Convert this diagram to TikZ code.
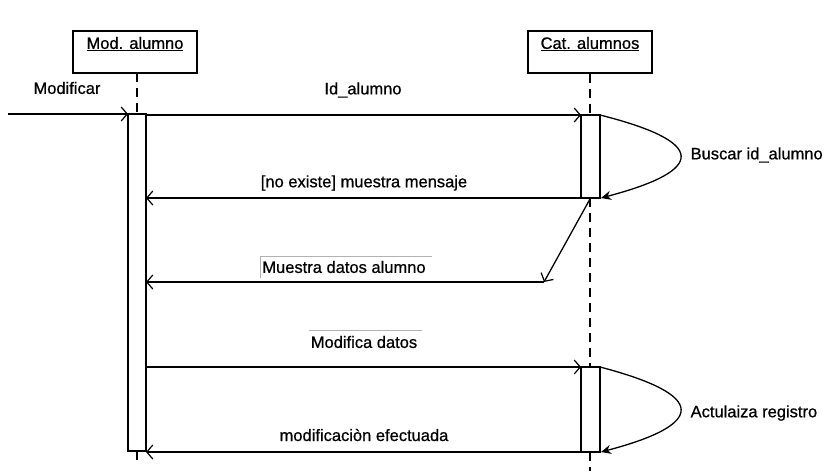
\documentclass[tikz,border=0pt]{standalone}
\usepackage{fontspec}
\setmainfont{Liberation Sans}
\newfontfamily\labelfont[FakeBold=0.7]{Liberation Sans}
\usetikzlibrary{arrows.meta}
\begin{document}
\begin{tikzpicture}[x=1pt,y=-1pt,
  line width=1.3pt,
  txt/.style={inner sep=0pt,font=\labelfont\fontsize{16.5}{19}\selectfont},
  objbox/.style={draw,fill=white,minimum width=124pt,minimum height=42pt,inner sep=0pt},
  lifeline/.style={line width=1.2pt,dash pattern=on 9pt off 6pt},
  actbox/.style={draw,fill=white},
  msg/.style={-{Straight Barb[length=6pt,width=14pt,line width=1.2pt]}},
  selfmsg/.style={-{Stealth[length=10pt,width=9pt]}},
  note/.style={line width=0.4pt,gray!60}]
\useasboundingbox (0,0) rectangle (829,471);

% objects
\node[objbox] (mod) at (135,52) {};
\node[txt] (modName) at (135,44) {\underline{Mod. alumno}};
\node[objbox] (cat) at (590,52) {};
\node[txt] (catName) at (590,44) {\underline{Cat. alumnos}};

% lifeline coordinates
\coordinate (modA) at (137,114);
\coordinate (modB) at (137,451);
\coordinate (modEnd) at (137,462);
\coordinate (catA) at (590,115);
\coordinate (catB) at (590,198);
\coordinate (catC) at (590,367);
\coordinate (catD) at (590,452);
\coordinate (catEnd) at (590,471);

% dashed lifelines
\draw[lifeline] (137,73) -- (modA);
\draw[lifeline] (modB) -- (modEnd);
\draw[lifeline] (cat.south) -- (catA);
\draw[lifeline] (catB) -- (catC);
\draw[lifeline] (catD) -- (catEnd);

% activation bars
\draw[actbox] (128,114) rectangle (146,451);
\draw[actbox] (581,115) rectangle (600,198);
\draw[actbox] (581,367) rectangle (600,452);

% message end points
\coordinate (start) at (8,114);
\coordinate (modIn) at (128,114);
\coordinate (m1a) at (146,115);
\coordinate (m1b) at (581,115);
\coordinate (s1a) at (600,115);
\coordinate (s1b) at (601,198);
\coordinate (m2a) at (581,198);
\coordinate (m2b) at (146,198);
\coordinate (d1) at (590,199);
\coordinate (d2) at (544,282);
\coordinate (m3b) at (146,282);
\coordinate (m4a) at (146,367);
\coordinate (m4b) at (581,367);
\coordinate (s2a) at (600,367);
\coordinate (s2b) at (601,452);
\coordinate (m5a) at (581,452);
\coordinate (m5b) at (146,452);

% messages
\draw[msg] (start) -- (modIn);
\node[txt] (lModificar) at (67,88) {Modificar};

\draw[msg] (m1a) -- (m1b);
\node[txt] (lId) at (363,90) {Id\_alumno};

\draw[selfmsg] (s1a) .. controls (707,142) and (707,170) .. (s1b);
\node[txt,anchor=west] (lBuscar) at (690,155) {Buscar id\_alumno};

\draw[msg] (m2a) -- (m2b);
\node[txt] (lNoExiste) at (364,183) {[no existe] muestra mensaje};

\draw[msg] (d1) -- (d2);
\draw[msg] (d2) -- (m3b);
\node[txt] (lMuestra) at (344,267) {Muestra datos alumno};
\draw[note] (lMuestra.north west) ++(-2,-4) coordinate (mq) -- ++(172,0);
\draw[note] (mq) -- ++(0,22);

\draw[msg] (m4a) -- (m4b);
\node[txt] (lModifica) at (364,342) {Modifica datos};
\draw[note] (lModifica.north west) ++(-1,-5) -- ++(113,0);

\draw[selfmsg] (s2a) .. controls (707,395) and (707,424) .. (s2b);
\node[txt,anchor=west] (lActualiza) at (690,413) {Actulaiza registro};

\draw[msg] (m5a) -- (m5b);
\node[txt] (lEfectuada) at (364,435) {modificaci\`on efectuada};
\end{tikzpicture}
\end{document}
